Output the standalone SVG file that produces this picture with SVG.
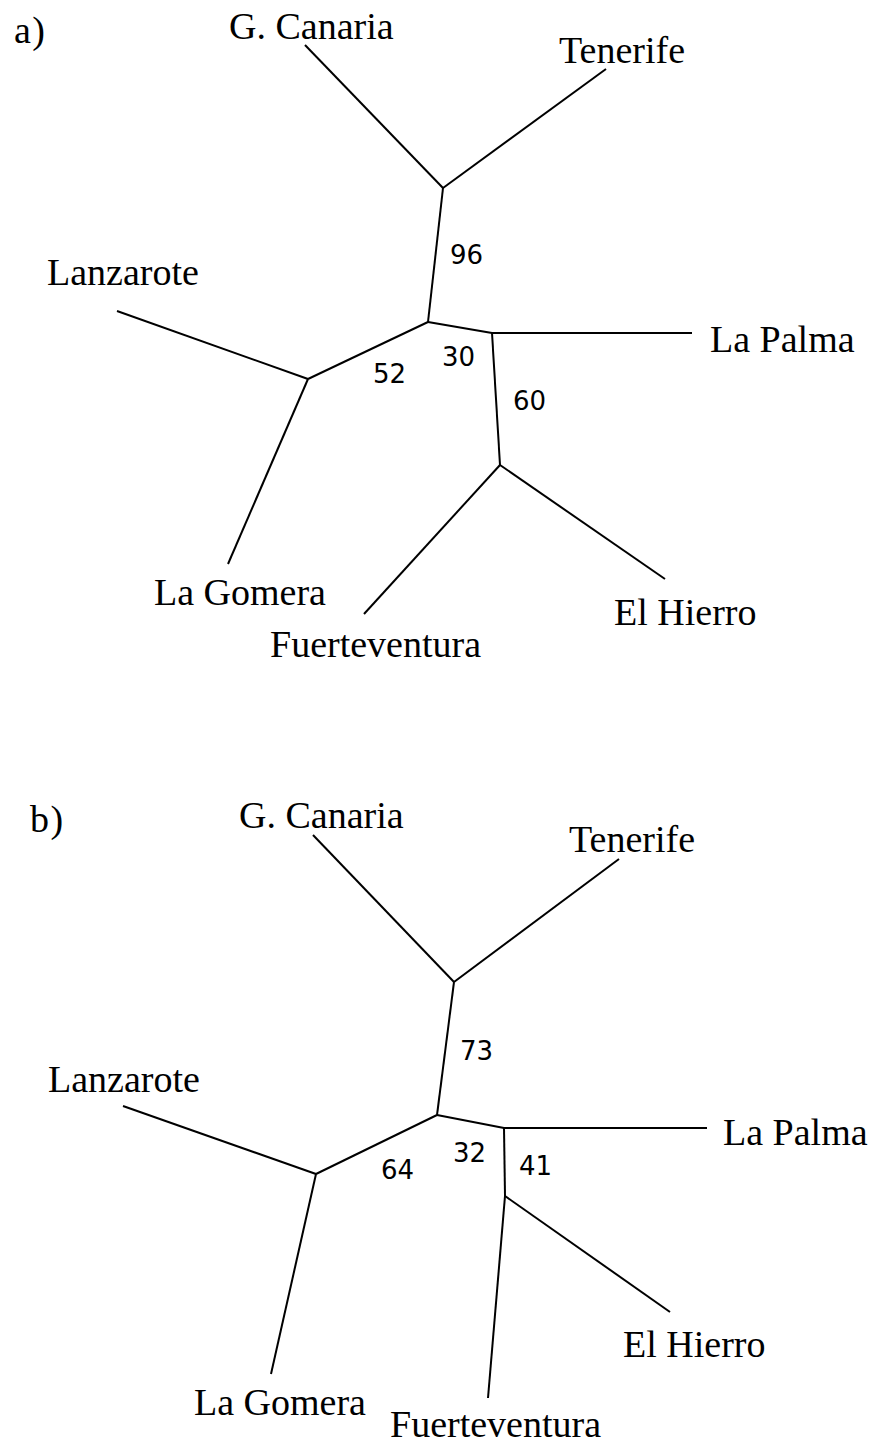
<svg xmlns="http://www.w3.org/2000/svg" width="873" height="1445" viewBox="0 0 873 1445">
<style>
.lbl{font-family:"Liberation Serif","Times New Roman",serif;font-size:38px;fill:#000}
.num{font-family:"DejaVu Sans","Noto Sans",sans-serif;font-size:26px;fill:#000}
.br{stroke:#000;stroke-width:2;fill:none;stroke-linecap:butt;stroke-linejoin:miter}
</style>
<rect width="873" height="1445" fill="#fff"/>
<g id="panel-a">
  <text class="lbl" x="14" y="43" letter-spacing="1.5">a)</text>
  <g id="connectors-a">
    <line class="br" x1="305" y1="45" x2="443" y2="188"/>
    <line class="br" x1="606" y1="69" x2="443" y2="188"/>
    <line class="br" x1="443" y1="188" x2="428" y2="322"/>
    <line class="br" x1="117" y1="311" x2="308" y2="379"/>
    <line class="br" x1="308" y1="379" x2="428" y2="322"/>
    <line class="br" x1="428" y1="322" x2="492" y2="333"/>
    <line class="br" x1="492" y1="333" x2="692" y2="333"/>
    <line class="br" x1="492" y1="333" x2="500" y2="465"/>
    <line class="br" x1="308" y1="379" x2="228" y2="564"/>
    <line class="br" x1="500" y1="465" x2="364" y2="614"/>
    <line class="br" x1="500" y1="465" x2="665" y2="579"/>
  </g>
  <g id="a-gcanaria"><text class="lbl" x="229" y="39">G. Canaria</text></g>
  <g id="a-tenerife"><text class="lbl" x="559" y="63">Tenerife</text></g>
  <g id="a-lanzarote"><text class="lbl" x="47" y="285">Lanzarote</text></g>
  <g id="a-lapalma"><text class="lbl" x="710" y="352">La Palma</text></g>
  <g id="a-lagomera"><text class="lbl" x="154" y="605">La Gomera</text></g>
  <g id="a-fuerteventura"><text class="lbl" x="270" y="657">Fuerteventura</text></g>
  <g id="a-elhierro"><text class="lbl" x="614" y="625">El Hierro</text></g>
  <g id="a-support">
    <text class="num" x="450" y="264">96</text>
    <text class="num" x="373" y="383">52</text>
    <text class="num" x="442" y="366">30</text>
    <text class="num" x="513" y="410">60</text>
  </g>
</g>
<g id="panel-b">
  <text class="lbl" x="30" y="832" letter-spacing="1.5">b)</text>
  <g id="connectors-b">
    <line class="br" x1="313" y1="835" x2="454" y2="982"/>
    <line class="br" x1="619" y1="859" x2="454" y2="982"/>
    <line class="br" x1="454" y1="982" x2="437" y2="1115"/>
    <line class="br" x1="123" y1="1106" x2="316" y2="1174"/>
    <line class="br" x1="316" y1="1174" x2="437" y2="1115"/>
    <line class="br" x1="437" y1="1115" x2="504" y2="1128"/>
    <line class="br" x1="504" y1="1128" x2="707" y2="1128"/>
    <line class="br" x1="504" y1="1128" x2="505" y2="1196"/>
    <line class="br" x1="316" y1="1174" x2="271" y2="1374"/>
    <line class="br" x1="505" y1="1196" x2="488" y2="1398"/>
    <line class="br" x1="505" y1="1196" x2="670" y2="1312"/>
  </g>
  <g id="b-gcanaria"><text class="lbl" x="239" y="828">G. Canaria</text></g>
  <g id="b-tenerife"><text class="lbl" x="569" y="852">Tenerife</text></g>
  <g id="b-lanzarote"><text class="lbl" x="48" y="1092">Lanzarote</text></g>
  <g id="b-lapalma"><text class="lbl" x="723" y="1145">La Palma</text></g>
  <g id="b-lagomera"><text class="lbl" x="194" y="1415">La Gomera</text></g>
  <g id="b-fuerteventura"><text class="lbl" x="390" y="1437">Fuerteventura</text></g>
  <g id="b-elhierro"><text class="lbl" x="623" y="1357">El Hierro</text></g>
  <g id="b-support">
    <text class="num" x="460" y="1060">73</text>
    <text class="num" x="381" y="1179">64</text>
    <text class="num" x="453" y="1162">32</text>
    <text class="num" x="519" y="1175">41</text>
  </g>
</g>
</svg>
